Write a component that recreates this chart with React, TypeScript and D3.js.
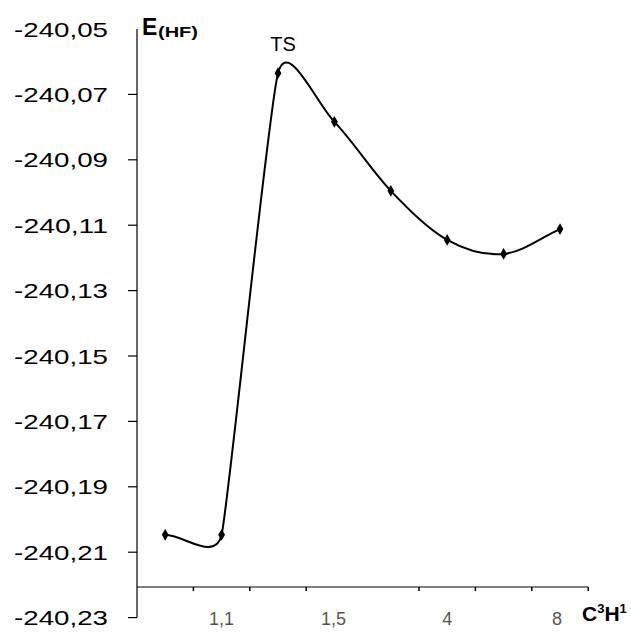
import React from "react";
import * as d3 from "d3";

const categories = ["c1", "c2", "c3", "c4", "c5", "c6", "c7", "c8"];
const xLabels = ["", "1,1", "", "1,5", "", "4", "", "8"];
const energies = [-240.2047, -240.2047, -240.0635, -240.0784, -240.0995, -240.1145, -240.1188, -240.1112];
const yTicks = [-240.05, -240.07, -240.09, -240.11, -240.13, -240.15, -240.17, -240.19, -240.21, -240.23];
const hiddenXTick = [3];

const W = 631;
const H = 633;
const font = "'Liberation Sans', Arial, sans-serif";

// Spreadsheet-style smoothed line: Bezier with tangents capped by adjacent segment lengths
function smoothCurve(context: any) {
  let pts: [number, number][] = [];
  return {
    areaStart() {},
    areaEnd() {},
    lineStart() {
      pts = [];
    },
    point(x: number, y: number) {
      pts.push([x, y]);
    },
    lineEnd() {
      const n = pts.length;
      if (!n) return;
      context.moveTo(pts[0][0], pts[0][1]);
      if (n === 1) return;
      const before: [number, number][] = [];
      const after: [number, number][] = [];
      const dist = (a: [number, number], b: [number, number]) => Math.hypot(b[0] - a[0], b[1] - a[1]);
      for (let i = 0; i < n; i++) {
        const p = pts[i];
        if (i === 0) {
          const q = pts[1];
          after[i] = [p[0] + (q[0] - p[0]) / 3, p[1] + (q[1] - p[1]) / 3];
          before[i] = p;
        } else if (i === n - 1) {
          const q = pts[n - 2];
          before[i] = [p[0] + (q[0] - p[0]) / 3, p[1] + (q[1] - p[1]) / 3];
          after[i] = p;
        } else {
          const a = pts[i - 1];
          const b = pts[i + 1];
          const vx = b[0] - a[0];
          const vy = b[1] - a[1];
          const d02 = Math.hypot(vx, vy);
          const d01 = dist(a, p);
          const d12 = dist(p, b);
          let f = 1 / 6;
          if (d02 * f > d01 / 2 || d02 * f > d12 / 2) f = Math.min(d01, d12) / (2 * d02);
          before[i] = [p[0] - vx * f, p[1] - vy * f];
          after[i] = [p[0] + vx * f, p[1] + vy * f];
        }
      }
      for (let i = 0; i < n - 1; i++) {
        context.bezierCurveTo(after[i][0], after[i][1], before[i + 1][0], before[i + 1][1], pts[i + 1][0], pts[i + 1][1]);
      }
    },
  };
}

export default function App() {
  const axisX = 137;
  const x = d3.scaleBand<string>().domain(categories).range([axisX, 588.2]).padding(0);
  const y = d3.scaleLinear().domain([-240.23, -240.05]).range([617.6, 29]);
  const xAxisY = 587;

  const pts: [number, number][] = energies.map((v, i) => [
    (x(categories[i]) as number) + x.bandwidth() / 2,
    y(v),
  ]);
  const line = d3.line().curve(smoothCurve as any)(pts) as string;
  const diamond = d3.symbol().type(d3.symbolDiamond).size(40)() as string;

  const fmt = (v: number) => v.toFixed(2).replace(".", ",");

  const boundaries = categories.map((c) => (x(c) as number) + x.bandwidth());

  return (
    <svg width={W} height={H} style={{ position: "absolute", left: 0, top: 0, background: "#fff" }}>
      <rect width={W} height={H} fill="#fff" />
      {/* y axis */}
      <line x1={axisX} x2={axisX} y1={29} y2={y(-240.23)} stroke="#000" strokeWidth={1.2} />
      {yTicks.map((t, i) => (
        <g key={t}>
          {i > 0 && <line x1={axisX - 9} x2={axisX} y1={y(t)} y2={y(t)} stroke="#000" strokeWidth={1.2} />}
          <text
            x={14}
            y={y(t) + 7.5}
            fontFamily={font}
            fontSize={21}
            textLength={94}
            lengthAdjust="spacingAndGlyphs"
            fill="#000"
          >
            {fmt(t)}
          </text>
        </g>
      ))}
      {/* x axis */}
      <line x1={axisX} x2={588.2} y1={xAxisY} y2={xAxisY} stroke="#000" strokeWidth={1.2} />
      {boundaries.map((b, i) =>
        hiddenXTick.includes(i) ? null : (
          <line key={i} x1={b} x2={b} y1={xAxisY} y2={xAxisY + 4} stroke="#000" strokeWidth={1.5} />
        )
      )}
      {xLabels.map((l, i) =>
        l ? (
          <text
            key={i}
            x={(x(categories[i]) as number) + x.bandwidth() / 2 + (i === 7 ? -3 : i === 3 ? -1 : 0)}
            y={625}
            textAnchor="middle"
            fontFamily={font}
            fontSize={18}
            fill="#555"
          >
            {l}
          </text>
        ) : null
      )}
      {/* axis titles */}
      <text x={142} y={35} fontFamily={font} fontWeight="bold" fontSize={23} fill="#000">
        E
      </text>
      <text x={158} y={37} fontFamily={font} fontWeight="bold" fontSize={15} textLength={40} lengthAdjust="spacingAndGlyphs" fill="#000">
        (HF)
      </text>
      <text x={283} y={51} textAnchor="middle" fontFamily={font} fontSize={20} fill="#000">
        TS
      </text>
      <text x={582} y={621} fontFamily={font} fontWeight="bold" fontSize={21} fill="#000">
        C<tspan fontSize={13} dy={-8}>3</tspan>
        <tspan dy={8}>H</tspan>
        <tspan fontSize={13} dy={-8}>1</tspan>
      </text>
      {/* curve */}
      <path d={line} fill="none" stroke="#000" strokeWidth={2} />
      {pts.map((p, i) => (
        <path key={i} d={diamond} transform={`translate(${p[0]},${p[1]})`} fill="#000" />
      ))}
    </svg>
  );
}
